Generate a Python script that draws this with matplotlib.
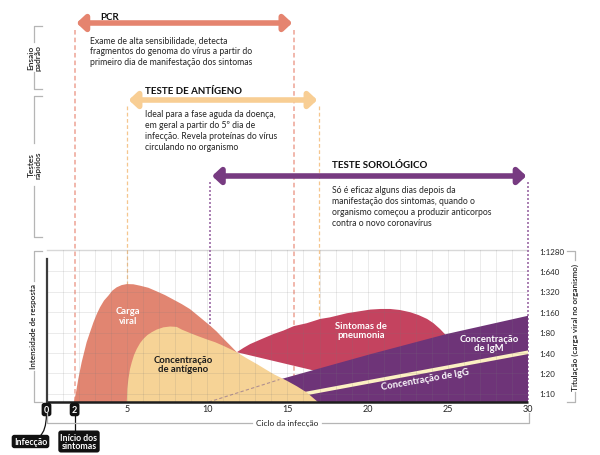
"""Chart: tests for coronavirus along the infection cycle."""

import matplotlib
matplotlib.use("Agg")
import matplotlib.pyplot as plt
from matplotlib import transforms
from matplotlib.patches import FancyArrowPatch, ArrowStyle, PathPatch
from matplotlib.path import Path

plt.rcParams["font.family"] = ["Lato", "DejaVu Sans"]

# ---- data ----
day_ticks = [5, 10, 15, 20, 25, 30]
titer_labels = ["1:10", "1:20", "1:40", "1:80", "1:160", "1:320", "1:640", "1:1280"]
titer_pos = [0.4, 1.4, 2.4, 3.4, 4.4, 5.4, 6.4, 7.4]

viral_x = [1.71, 1.84, 1.98, 2.19, 2.5, 2.71, 2.92, 3.13, 3.33, 3.58, 3.85, 4.1, 4.37,
           4.68, 5.0, 5.41, 5.83, 6.34, 6.87, 7.38, 7.9, 8.42, 8.94, 9.56, 10.19,
           10.6, 11.0, 11.43, 11.85]
viral_y = [0.0, 0.48, 1.13, 1.95, 2.93, 3.42, 3.9, 4.31, 4.64, 4.97, 5.21, 5.46, 5.62,
           5.73, 5.78, 5.77, 5.7, 5.6, 5.42, 5.24, 5.02, 4.8, 4.55, 4.15, 3.74,
           3.45, 3.12, 2.78, 2.44]

antigen_x = [5.0, 5.03, 5.1, 5.2, 5.31, 5.45, 5.62, 5.83, 6.03, 6.28, 6.55, 6.86, 7.28,
             7.7, 8.11, 8.42, 8.94, 9.46, 9.98, 10.5, 11.0, 11.43, 11.85, 12.47, 13.1,
             13.6, 14.13, 14.97, 15.59, 16.2, 16.9]
antigen_y = [0.0, 0.64, 1.13, 1.62, 1.95, 2.3, 2.6, 2.89, 3.09, 3.28, 3.42, 3.55, 3.66,
             3.7, 3.68, 3.55, 3.38, 3.22, 3.07, 2.93, 2.76, 2.6, 2.44, 2.14, 1.86,
             1.62, 1.37, 1.04, 0.77, 0.47, 0.0]

pneumo_x = [11.85, 12.26, 12.68, 13.41, 14.13, 14.75, 15.4, 16.2, 17.04, 17.66, 18.7,
            19.43, 20.16, 20.8, 21.4, 22.0, 22.65, 23.17, 23.7, 24.1, 24.5, 24.9]
pneumo_y = [2.44, 2.65, 2.84, 3.09, 3.33, 3.5, 3.72, 3.86, 4.07, 4.15, 4.35,
            4.44, 4.53, 4.56, 4.56, 4.51, 4.4, 4.26, 4.07, 3.86, 3.58, 3.25]

igm_x = [10.1, 14.5, 20.2, 24.9, 30.0]
igm_y = [0.0, 1.1, 2.35, 3.33, 4.23]

igg_x = [15.5, 30.0]
igg_y = [0.32, 2.44]

# test windows (days): start, end
pcr_window = [1.75, 15.42]
antigen_window = [5.0, 16.98]
sero_window = [10.19, 30.0]
symptom_day = 1.75

pcr_text = ("Exame de alta sensibilidade, detecta\n"
            "fragmentos do genoma do vírus a partir do\n"
            "primeiro dia de manifestação dos sintomas")
antigen_text = ("Ideal para a fase aguda da doença,\n"
                "em geral a partir do 5º dia de\n"
                "infecção. Revela proteínas do vírus\n"
                "circulando no organismo")
sero_text = ("Só é eficaz alguns dias depois da\n"
             "manifestação dos sintomas, quando o\n"
             "organismo começou a produzir anticorpos\n"
             "contra o novo coronavírus")

# ---- colours ----
c_viral = "#E18571"
c_antigen = "#F6D396"
c_pneumo = "#C4435F"
c_purple = "#6E3478"
c_cream = "#FCF0C2"
c_pcr_arrow = "#E5846F"
c_ant_arrow = "#F8CE94"
c_sero_arrow = "#773B81"
c_text = "#242424"

W, H = 600, 456
fig = plt.figure(figsize=(6, 4.56), dpi=100)


def fx(px):
    return px / W


def fy(py):
    return 1 - py / H


ax = fig.add_axes([fx(46.5), fy(403), (528.3 - 46.5) / W, 152 / H])
ax.set_xlim(0, 30)
ax.set_ylim(0, 7.45)
for s in ax.spines.values():
    s.set_visible(False)
ax.set_xticks([])
ax.set_yticks([])

trans = transforms.blended_transform_factory(ax.transData, fig.transFigure)

# grid, drawn over the areas with transparency
for d in range(1, 30):
    ax.axvline(d, color="#7a7a7a", alpha=0.15, lw=0.7, zorder=7.5)
for p in titer_pos[:-1]:
    ax.axhline(p, color="#7a7a7a", alpha=0.15, lw=0.7, zorder=7.5)
ax.axhline(7.43, color="#d8d8d8", lw=1.0, zorder=0.6, clip_on=False)

# dashed guide lines from the arrows down to the baseline
guides = [
    (pcr_window, 31, "#EEA394", (3, 2), 1.1),
    (antigen_window, 107, "#F5C68E", (3, 2), 0.9),
    (sero_window, 183, "#9C6AA6", (1.2, 1.2), 1.2),
]
for window, top, col, dash, lw in guides:
    for xv in window:
        ax.plot([xv, xv], [fy(top), fy(403)], transform=trans, color=col,
                lw=lw, dashes=dash, clip_on=False, zorder=1)

# areas
ax.fill(viral_x + [viral_x[-1]], viral_y + [0], color=c_viral, lw=0, zorder=2)
ax.fill(pneumo_x + [pneumo_x[-1]], pneumo_y + [0], color=c_pneumo, lw=0, zorder=3)
ax.fill(igm_x + [igm_x[-1]], igm_y + [0], color=c_purple, lw=0, zorder=4)
ax.plot(igg_x, igg_y, color=c_cream, lw=2.6, solid_capstyle="butt", zorder=5)
ax.fill(antigen_x, antigen_y, color=c_antigen, lw=0, zorder=6)
ax.plot(igm_x[:2], igm_y[:2], color="#b09090", lw=0.8, dashes=(3, 2), zorder=7)

# axes lines
ax.plot([0, 30], [0, 0], color="#1e1e1e", lw=1.8, zorder=8, clip_on=False,
        solid_capstyle="butt")
ax.plot([0, 0], [0, 7.0], color="#3c3c3c", lw=1.6, zorder=8, clip_on=False)

# area labels
lab = dict(ha="center", va="center", fontsize=6.8, fontweight="bold",
           linespacing=1.1, zorder=9)
ax.text(5.1, 4.23, "Carga\nviral", color="white", **lab)
ax.text(8.52, 1.86, "Concentração\nde antígeno", color="#1a1a1a", **lab)
ax.text(19.6, 3.53, "Sintomas de\npneumonia", color="white", **lab)
ax.text(27.57, 2.89, "Concentração\nde IgM", color="white", **lab)
ax.text(23.6, 1.13, "Concentração de IgG", color="white", rotation=10, **lab)

# x tick labels
for d in day_ticks:
    ax.text(d, fy(410), str(d), transform=trans, ha="center", va="center",
            fontsize=6.5, color=c_text)

# badges for day 0 and day 2
badge = dict(boxstyle="round,pad=0.25,rounding_size=0.3", fc="#111111", ec="none")
ax.text(0, fy(410.5), "0", transform=trans, ha="center", va="center", fontsize=6.5,
        fontweight="bold", color="white", bbox=badge, zorder=10)
ax.text(symptom_day, fy(410.5), "2", transform=trans, ha="center", va="center",
        fontsize=6.5, fontweight="bold", color="white", bbox=badge, zorder=10)
fig.text(fx(30.5), fy(442.5), "Infecção", ha="center", va="center", fontsize=6.3,
         fontweight="bold", color="white", bbox=badge)
fig.text(fx(79), fy(442.5), "Início dos\nsintomas", ha="center", va="center",
         fontsize=6.3, fontweight="bold", color="white", linespacing=0.95,
         bbox=badge)
# connectors
fig.add_artist(plt.Line2D([fx(75), fx(75)], [fy(416), fy(433)], color="#111",
                          lw=0.9))
conn = Path([(fx(46.5), fy(416)), (fx(46), fy(432)), (fx(40), fy(437))],
            [Path.MOVETO, Path.CURVE3, Path.CURVE3])
fig.add_artist(PathPatch(conn, fc="none", ec="#111", lw=0.9,
                         transform=fig.transFigure))

# bottom bracket: Ciclo da infecção
br = "#b5b5b5"
fig.add_artist(plt.Line2D([fx(46.5), fx(46.5), fx(252)], [fy(414), fy(424), fy(424)],
                          color=br, lw=0.9))
fig.add_artist(plt.Line2D([fx(322), fx(528.5), fx(528.5)], [fy(424), fy(424), fy(414)],
                          color=br, lw=0.9))
fig.text(fx(287), fy(424), "Ciclo da infecção", ha="center", va="center",
         fontsize=6, color=c_text)

# right titer labels and bracket
ytrans = transforms.blended_transform_factory(fig.transFigure, ax.transData)
for p, t in zip(titer_pos, titer_labels):
    ax.text(fx(539), p, t, transform=ytrans, ha="left", va="center", fontsize=5.7,
            color=c_text)


def vbracket(x, y0, y1, gap0, gap1, tick_dir):
    xt = x + tick_dir * 8
    fig.add_artist(plt.Line2D([fx(xt), fx(x), fx(x)], [fy(y0), fy(y0), fy(gap0)],
                              color=br, lw=0.9))
    fig.add_artist(plt.Line2D([fx(x), fx(x), fx(xt)], [fy(gap1), fy(y1), fy(y1)],
                              color=br, lw=0.9))


side = dict(ha="center", va="center", color=c_text, fontweight="semibold",
            rotation=90)
vbracket(575, 251.5, 403, 261, 393, -1)
fig.text(fx(575), fy(327), "Titulação (carga viral no organismo)", fontsize=5.9,
         **side)

# left brackets
vbracket(33.5, 251.5, 403, 282, 372, 1)
fig.text(fx(33.5), fy(327), "Intensidade de resposta", fontsize=5.9, **side)
vbracket(33.5, 27, 90, 43, 73, 1)
fig.text(fx(34.5), fy(58), "Ensaio\npadrão", fontsize=6, linespacing=1.0, **side)
vbracket(33.5, 97, 238, 144, 187, 1)
fig.text(fx(34.5), fy(165), "Testes\nrápidos", fontsize=6, linespacing=1.0, **side)

# arrows for each test
arrows = [
    (pcr_window, 24, c_pcr_arrow),
    (antigen_window, 101, c_ant_arrow),
    (sero_window, 177, c_sero_arrow),
]
style = ArrowStyle("<|-|>", head_length=0.45, head_width=0.42)
for window, ypx, col in arrows:
    a = FancyArrowPatch((window[0] + 0.12, fy(ypx)), (window[1] - 0.12, fy(ypx)),
                        transform=trans, arrowstyle=style, mutation_scale=11,
                        lw=4.0, color=col, shrinkA=0, shrinkB=0,
                        joinstyle="round", capstyle="round", clip_on=False)
    fig.add_artist(a)

# titles and descriptions
fig.text(fx(100), fy(17), "PCR", ha="left", va="center", fontsize=7,
         fontweight="bold", color="#111")
fig.text(fx(90), fy(52), pcr_text, ha="left", va="center", fontsize=6.2,
         color=c_text, linespacing=1.25)
fig.text(fx(145), fy(91), "TESTE DE ANTÍGENO", ha="left", va="center", fontsize=7,
         fontweight="bold", color="#111")
fig.text(fx(145), fy(131), antigen_text, ha="left", va="center", fontsize=6.2,
         color=c_text, linespacing=1.25)
fig.text(fx(332), fy(166), "TESTE SOROLÓGICO", ha="left", va="center", fontsize=7,
         fontweight="bold", color="#111")
fig.text(fx(332), fy(207), sero_text, ha="left", va="center", fontsize=6.2,
         color=c_text, linespacing=1.25)

fig.savefig("out.png", dpi=100)
